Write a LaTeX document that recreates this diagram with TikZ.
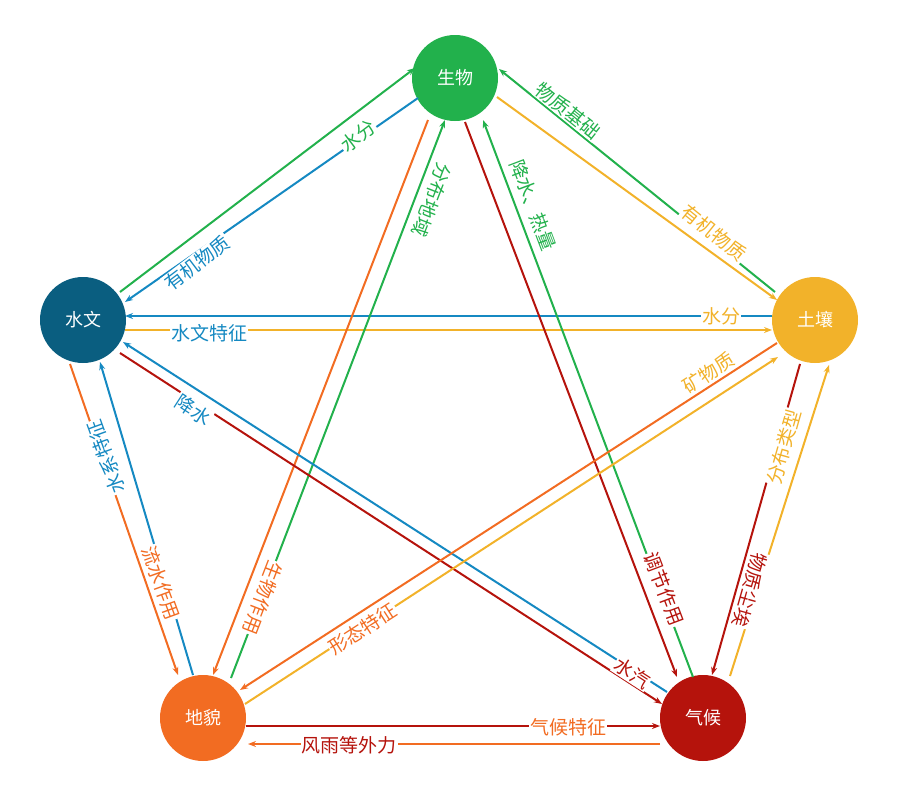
\documentclass[tikz,border=0pt]{standalone}
\usepackage{fontspec}
\setmainfont{Noto Sans CJK SC}
\usetikzlibrary{arrows.meta}
\definecolor{cg}{HTML}{22B14C}
\definecolor{cb}{HTML}{1589C2}
\definecolor{cn}{HTML}{0A5E80}
\definecolor{cy}{HTML}{F2B22A}
\definecolor{co}{HTML}{F26C22}
\definecolor{cr}{HTML}{B5130C}
\tikzset{
  circ/.style={circle,minimum size=86pt,inner sep=0pt,text=white,font=\fontsize{18}{21}\selectfont},
  arr/.style={line width=2pt,-{Stealth[length=8pt,width=6pt]}},
  lab/.style={fill=white,inner sep=1pt,font=\fontsize{19}{22}\selectfont},
  labn/.style={inner sep=1pt,font=\fontsize{19}{22}\selectfont}
}
\begin{document}
\begin{tikzpicture}[x=1pt,y=-1pt]
\useasboundingbox (0,0) rectangle (900,798);
\node[circ,fill=cg] (S) at (455,78) {生物};
\node[circ,fill=cy] (T) at (815,320) {土壤};
\node[circ,fill=cr] (Q) at (703,718) {气候};
\node[circ,fill=co] (D) at (203,718) {地貌};
\node[circ,fill=cn] (H) at (83,320) {水文};
% endpoints
\coordinate (a1) at (120,292); \coordinate (a2) at (415,68);
\coordinate (b1) at (418,98); \coordinate (b2) at (125,302);
\coordinate (c1) at (775,292); \coordinate (c2) at (499,69);
\coordinate (d1) at (497,97); \coordinate (d2) at (777,300);
\coordinate (e1) at (772,316); \coordinate (e2) at (125,316);
\coordinate (f1) at (125,330); \coordinate (f2) at (772,330);
\coordinate (g1) at (465,122); \coordinate (g2) at (677,677);
\coordinate (h1) at (693,677); \coordinate (h2) at (483,120);
\coordinate (i1) at (428,120); \coordinate (i2) at (213,675);
\coordinate (j1) at (231,678); \coordinate (j2) at (445,120);
\coordinate (k1) at (70,364); \coordinate (k2) at (178,675);
\coordinate (l1) at (193,675); \coordinate (l2) at (100,362);
\coordinate (m1) at (120,353); \coordinate (m2) at (662,704);
\coordinate (n1) at (667,692); \coordinate (n2) at (123,342);
\coordinate (o1) at (777,343); \coordinate (o2) at (240,690);
\coordinate (p1) at (245,704); \coordinate (p2) at (778,357);
\coordinate (q1) at (800,364); \coordinate (q2) at (712,675);
\coordinate (r1) at (730,676); \coordinate (r2) at (829,365);
\coordinate (s1) at (246,726); \coordinate (s2) at (660,726);
\coordinate (t1) at (660,744); \coordinate (t2) at (248,744);
% lines
\draw[arr,cg] (a1) -- (a2);
\draw[arr,cb] (b1) -- (b2);
\draw[arr,cg] (c1) -- (c2);
\draw[arr,cy] (d1) -- (d2);
\draw[arr,cb] (e1) -- (e2);
\draw[arr,cy] (f1) -- (f2);
\draw[arr,cr] (g1) -- (g2);
\draw[arr,cg] (h1) -- (h2);
\draw[arr,co] (i1) -- (i2);
\draw[arr,cg] (j1) -- (j2);
\draw[arr,co] (k1) -- (k2);
\draw[arr,cb] (l1) -- (l2);
\draw[arr,cr] (m1) -- (m2);
\draw[arr,cb] (n1) -- (n2);
\draw[arr,co] (o1) -- (o2);
\draw[arr,cy] (p1) -- (p2);
\draw[arr,cr] (q1) -- (q2);
\draw[arr,cy] (r1) -- (r2);
\draw[arr,cr] (s1) -- (s2);
\draw[arr,co] (t1) -- (t2);
% labels
\node[lab,text=cg,rotate=37.2] (L1) at (358,136) {水分};
\node[lab,text=cb,rotate=37.2] (L2) at (197,263) {有机物质};
\node[lab,text=cg,rotate=-38.9] (L3) at (568,111) {物质基础};
\node[lab,text=cy,rotate=-38.9] (L4) at (714,233) {有机物质};
\node[lab,text=cy] (L5) at (721,316) {水分};
\node[lab,text=cb] (L6) at (209,333) {水文特征};
\node[labn,text=cg,rotate=-69.3] (L7) at (533,205) {降水、热量};
\node[lab,text=cr,rotate=-69.3] (L8) at (664,589) {调节作用};
\node[labn,text=cg,rotate=-111.1] (L9) at (432,200) {分布地域};
\node[lab,text=co,rotate=-111.1] (L10) at (263,598) {生物作用};
\node[lab,text=cb,rotate=110] (L11) at (106,457) {水系特征};
\node[lab,text=co,rotate=-70] (L12) at (161,583) {流水作用};
\node[lab,text=cb,rotate=-32.9] (L13) at (193,410) {降水};
\node[lab,text=cr,rotate=-32.9] (L14) at (632,673) {水汽};
\node[lab,text=cy,rotate=32.8] (L15) at (709,373) {矿物质};
\node[lab,text=co,rotate=32.8] (L16) at (363,629) {形态特征};
\node[lab,text=cy,rotate=74.2] (L17) at (784,447) {分布类型};
\node[lab,text=cr,rotate=-105.8] (L18) at (750,590) {物质尘埃};
\node[lab,text=co] (L19) at (568,727) {气候特征};
\node[lab,text=cr] (L20) at (349,745) {风雨等外力};
\end{tikzpicture}
\end{document}
